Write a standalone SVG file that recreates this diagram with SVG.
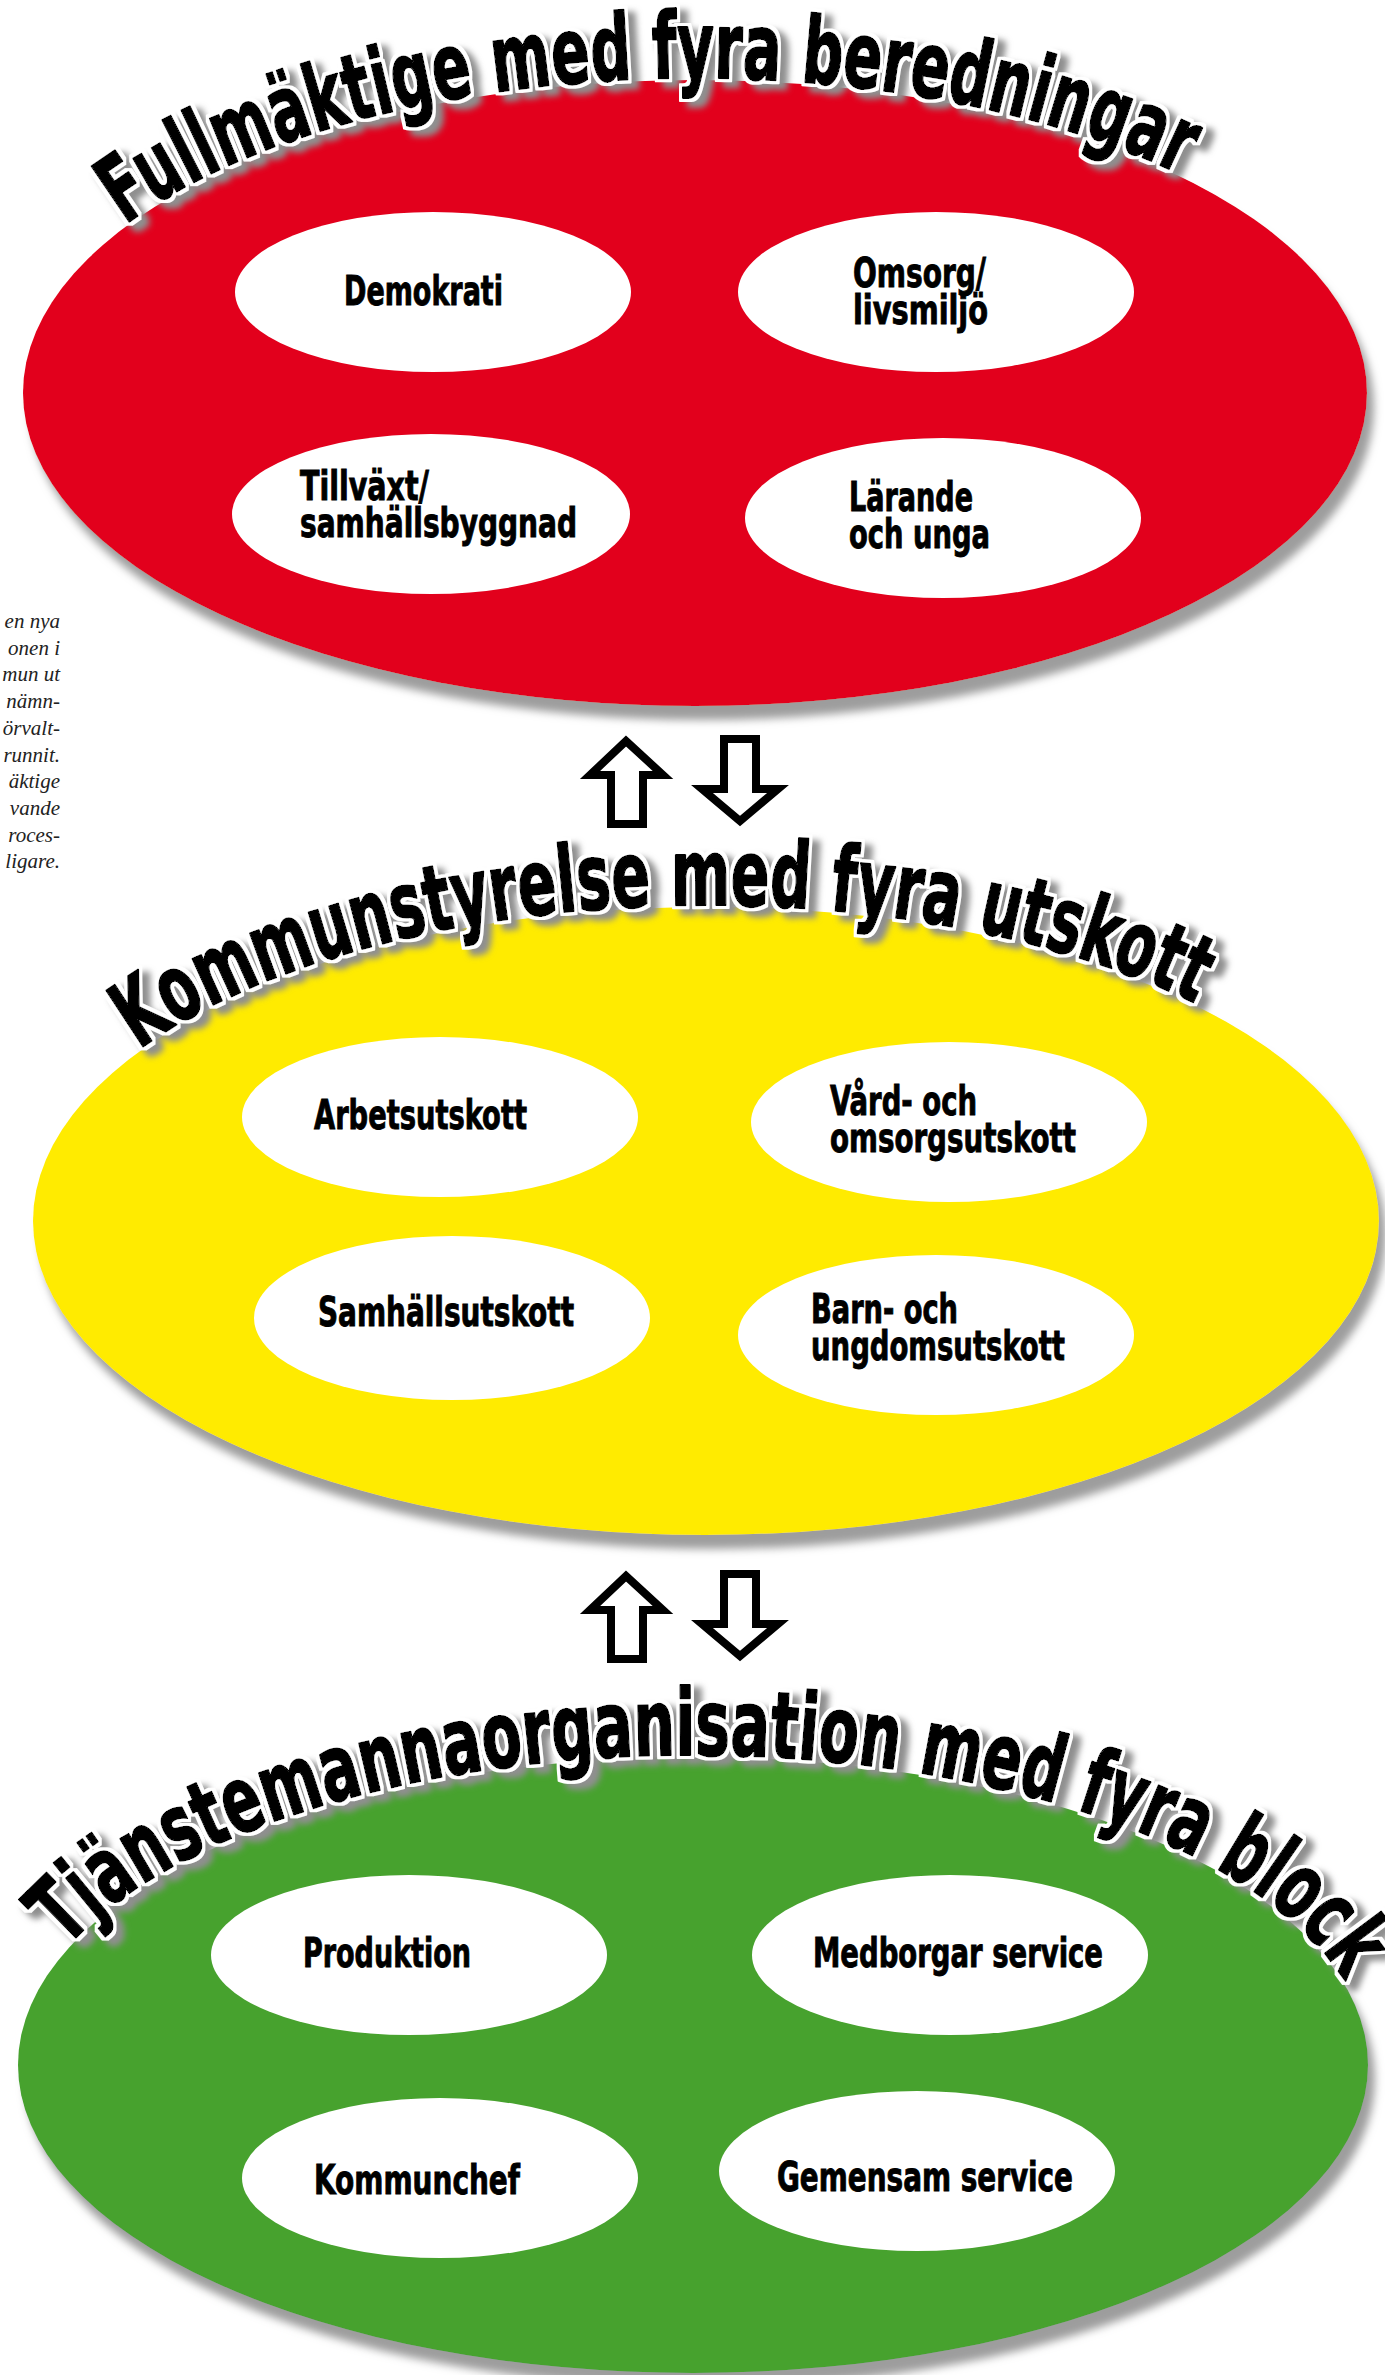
<svg xmlns="http://www.w3.org/2000/svg" width="1385" height="2375" viewBox="0 0 1385 2375">
<defs>
<filter id="eshadow" x="-10%" y="-10%" width="125%" height="135%">
<feGaussianBlur in="SourceAlpha" stdDeviation="4" result="b"/>
<feOffset in="b" dx="7" dy="14" result="o"/>
<feFlood flood-color="#9d9d9d"/>
<feComposite in2="o" operator="in" result="s"/>
<feMerge><feMergeNode in="s"/><feMergeNode in="SourceGraphic"/></feMerge>
</filter>
<filter id="tfx" x="-10%" y="-30%" width="125%" height="170%">
<feMorphology in="SourceAlpha" operator="dilate" radius="2.5" result="d"/>
<feFlood flood-color="#ffffff" result="wf"/>
<feComposite in="wf" in2="d" operator="in" result="w"/>
<feGaussianBlur in="d" stdDeviation="3" result="b"/>
<feOffset in="b" dx="8" dy="6" result="o"/>
<feFlood flood-color="#8f8f8f" result="gf"/>
<feComposite in="gf" in2="o" operator="in" result="s"/>
<feMerge><feMergeNode in="s"/><feMergeNode in="w"/><feMergeNode in="SourceGraphic"/></feMerge>
</filter>
<path id="arc1" d="M21,393 A674,315 0 0 1 1369,393 A674,315 0 0 1 21,393"/>
<path id="arc2" d="M31,1221 A675,316 0 0 1 1381,1221 A675,316 0 0 1 31,1221"/>
<path id="arc3" d="M16,2065 A677,310 0 0 1 1370,2065 A677,310 0 0 1 16,2065"/>
</defs>
<style>
.lbl{font-family:"DejaVu Sans","Liberation Sans",sans-serif;font-weight:bold;font-stretch:condensed;font-size:40px;fill:#000;stroke:#000;stroke-width:0.9px}
.title{font-family:"DejaVu Sans","Liberation Sans",sans-serif;font-weight:bold;font-stretch:condensed;font-size:92px;fill:#000;stroke:#000;stroke-width:2px;stroke-linejoin:round}
.margin{font-family:"Liberation Serif",serif;font-style:italic;font-size:21px;fill:#222;text-anchor:end}
.arrow{fill:#fff;stroke:#000;stroke-width:8;stroke-linejoin:miter}
.inner{fill:#fff}
.red{fill:#e2001a}
.yellow{fill:#ffeb00}
.green{fill:#46a22e}
</style>
<rect width="1385" height="2375" fill="#fff"/>

<g id="margin-text">
<text class="margin" x="60" y="628">en nya</text>
<text class="margin" x="60" y="654.7">onen i</text>
<text class="margin" x="60" y="681.4">mun ut</text>
<text class="margin" x="60" y="708.1">nämn-</text>
<text class="margin" x="60" y="734.8">örvalt-</text>
<text class="margin" x="60" y="761.5">runnit.</text>
<text class="margin" x="60" y="788.2">äktige</text>
<text class="margin" x="60" y="814.9">vande</text>
<text class="margin" x="60" y="841.6">roces-</text>
<text class="margin" x="60" y="868.3">ligare.</text>
</g>

<g id="fullmaktige">
<ellipse class="red" cx="695" cy="393" rx="672" ry="313" filter="url(#eshadow)"/>
<g filter="url(#tfx)"><text class="title"><textPath href="#arc1" startOffset="205" textLength="1097" lengthAdjust="spacingAndGlyphs">Fullmäktige med fyra beredningar</textPath></text></g>
<g id="demokrati"><ellipse class="inner" cx="433" cy="292" rx="198" ry="80"/><text class="lbl" x="344" y="305" textLength="159" lengthAdjust="spacingAndGlyphs">Demokrati</text></g>
<g id="omsorg"><ellipse class="inner" cx="936" cy="292" rx="198" ry="80"/><text class="lbl" x="853" y="287" textLength="133" lengthAdjust="spacingAndGlyphs">Omsorg/</text><text class="lbl" x="853" y="324" textLength="135" lengthAdjust="spacingAndGlyphs">livsmiljö</text></g>
<g id="tillvaxt"><ellipse class="inner" cx="431" cy="514" rx="199" ry="80"/><text class="lbl" x="300" y="500" textLength="129" lengthAdjust="spacingAndGlyphs">Tillväxt/</text><text class="lbl" x="300" y="537" textLength="277" lengthAdjust="spacingAndGlyphs">samhällsbyggnad</text></g>
<g id="larande"><ellipse class="inner" cx="943" cy="518" rx="198" ry="80"/><text class="lbl" x="849" y="511" textLength="124" lengthAdjust="spacingAndGlyphs">Lärande</text><text class="lbl" x="849" y="548" textLength="141" lengthAdjust="spacingAndGlyphs">och unga</text></g>
</g>

<g id="kommunstyrelse">
<ellipse class="yellow" cx="706" cy="1221" rx="673" ry="314" filter="url(#eshadow)"/>
<g filter="url(#tfx)"><text class="title"><textPath href="#arc2" startOffset="210" textLength="1097" lengthAdjust="spacingAndGlyphs">Kommunstyrelse med fyra utskott</textPath></text></g>
<g id="arbetsutskott"><ellipse class="inner" cx="440" cy="1117" rx="198" ry="80"/><text class="lbl" x="314" y="1129" textLength="213" lengthAdjust="spacingAndGlyphs">Arbetsutskott</text></g>
<g id="vardutskott"><ellipse class="inner" cx="949" cy="1122" rx="198" ry="80"/><text class="lbl" x="830" y="1115" textLength="147" lengthAdjust="spacingAndGlyphs">Vård- och</text><text class="lbl" x="830" y="1152" textLength="246" lengthAdjust="spacingAndGlyphs">omsorgsutskott</text></g>
<g id="samhallsutskott"><ellipse class="inner" cx="452" cy="1318" rx="198" ry="82"/><text class="lbl" x="318" y="1326" textLength="256" lengthAdjust="spacingAndGlyphs">Samhällsutskott</text></g>
<g id="barnutskott"><ellipse class="inner" cx="936" cy="1335" rx="198" ry="80"/><text class="lbl" x="811" y="1323" textLength="147" lengthAdjust="spacingAndGlyphs">Barn- och</text><text class="lbl" x="811" y="1360" textLength="254" lengthAdjust="spacingAndGlyphs">ungdomsutskott</text></g>
</g>

<g id="tjanstemannaorganisation">
<ellipse class="green" cx="693" cy="2065" rx="675" ry="308" filter="url(#eshadow)"/>
<g filter="url(#tfx)"><text class="title"><textPath href="#arc3" startOffset="130" textLength="1385" lengthAdjust="spacingAndGlyphs">Tjänstemannaorganisation med fyra block</textPath></text></g>
<g id="produktion"><ellipse class="inner" cx="409" cy="1955" rx="198" ry="80"/><text class="lbl" x="303" y="1967" textLength="168" lengthAdjust="spacingAndGlyphs">Produktion</text></g>
<g id="medborgarservice"><ellipse class="inner" cx="950" cy="1955" rx="198" ry="80"/><text class="lbl" x="813" y="1967" textLength="290" lengthAdjust="spacingAndGlyphs">Medborgar service</text></g>
<g id="kommunchef"><ellipse class="inner" cx="440" cy="2178" rx="198" ry="80"/><text class="lbl" x="314" y="2194" textLength="206" lengthAdjust="spacingAndGlyphs">Kommunchef</text></g>
<g id="gemensamservice"><ellipse class="inner" cx="917" cy="2171" rx="198" ry="80"/><text class="lbl" x="777" y="2191" textLength="296" lengthAdjust="spacingAndGlyphs">Gemensam service</text></g>
</g>

<g id="connectors">
<path class="arrow" d="M626,741 L663,775 L643,775 L643,824 L611,824 L611,775 L590,775 Z"/>
<path class="arrow" d="M724,739 L756,739 L756,789 L778,789 L740,821 L702,789 L724,789 Z"/>
<path class="arrow" d="M626,1576 L663,1610 L643,1610 L643,1659 L611,1659 L611,1610 L590,1610 Z"/>
<path class="arrow" d="M724,1574 L756,1574 L756,1624 L778,1624 L740,1656 L702,1624 L724,1624 Z"/>
</g>
</svg>
